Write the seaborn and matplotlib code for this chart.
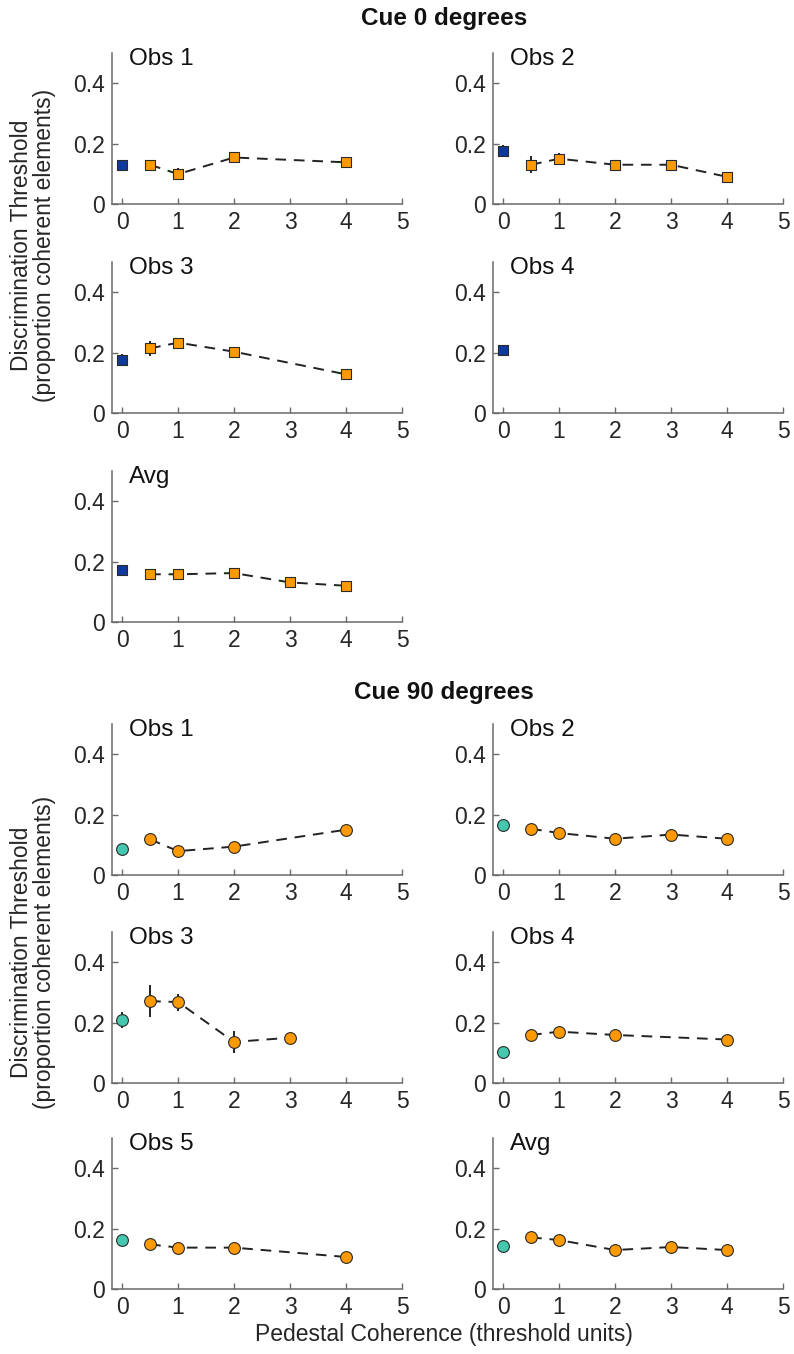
import numpy as np
import pandas as pd
import matplotlib
matplotlib.use("Agg")
import matplotlib.pyplot as plt
import seaborn as sns

sns.set_theme(style="ticks")
plt.rcParams['font.family'] = ['Liberation Sans', 'DejaVu Sans']

# ---------------- data ----------------
panel_names_cue0 = ["Obs 1", "Obs 2", "Obs 3", "Obs 4", "Avg"]
panel_names_cue90 = ["Obs 1", "Obs 2", "Obs 3", "Obs 4", "Obs 5", "Avg"]

# baseline (pedestal 0) thresholds and errors
cue0_base = [0.130, 0.174, 0.174, 0.207, 0.171]
cue0_base_err = [0.010, 0.020, 0.020, 0.015, 0.0]
cue90_base = [0.087, 0.167, 0.209, 0.103, 0.161, 0.144]
cue90_base_err = [0.006, 0.006, 0.027, 0.006, 0.006, 0.0]

# pedestal conditions
cue0_obs1_x = [0.5, 1, 2, 4]
cue0_obs1_y = [0.130, 0.099, 0.154, 0.138]
cue0_obs1_e = [0.010, 0.020, 0.012, 0.012]
cue0_obs2_x = [0.5, 1, 2, 3, 4]
cue0_obs2_y = [0.130, 0.150, 0.130, 0.130, 0.090]
cue0_obs2_e = [0.028, 0.020, 0.008, 0.008, 0.006]
cue0_obs3_x = [0.5, 1, 2, 4]
cue0_obs3_y = [0.214, 0.233, 0.203, 0.128]
cue0_obs3_e = [0.025, 0.015, 0.008, 0.006]
cue0_obs4_x = []
cue0_obs4_y = []
cue0_obs4_e = []
cue0_avg_x = [0.5, 1, 2, 3, 4]
cue0_avg_y = [0.158, 0.158, 0.162, 0.131, 0.120]
cue0_avg_e = [0, 0, 0, 0, 0]

cue90_obs1_x = [0.5, 1, 2, 4]
cue90_obs1_y = [0.118, 0.079, 0.094, 0.150]
cue90_obs1_e = [0.010, 0.012, 0.008, 0.008]
cue90_obs2_x = [0.5, 1, 2, 3, 4]
cue90_obs2_y = [0.153, 0.139, 0.120, 0.134, 0.120]
cue90_obs2_e = [0.008, 0.008, 0.006, 0.006, 0.006]
cue90_obs3_x = [0.5, 1, 2, 3]
cue90_obs3_y = [0.271, 0.268, 0.136, 0.150]
cue90_obs3_e = [0.052, 0.028, 0.037, 0.008]
cue90_obs4_x = [0.5, 1, 2, 4]
cue90_obs4_y = [0.159, 0.170, 0.159, 0.144]
cue90_obs4_e = [0.006, 0.008, 0.006, 0.010]
cue90_obs5_x = [0.5, 1, 2, 4]
cue90_obs5_y = [0.148, 0.137, 0.137, 0.106]
cue90_obs5_e = [0.008, 0.006, 0.006, 0.006]
cue90_avg_x = [0.5, 1, 2, 3, 4]
cue90_avg_y = [0.171, 0.162, 0.129, 0.139, 0.129]
cue90_avg_e = [0, 0, 0, 0, 0]

cue0_series = [(cue0_obs1_x, cue0_obs1_y, cue0_obs1_e),
               (cue0_obs2_x, cue0_obs2_y, cue0_obs2_e),
               (cue0_obs3_x, cue0_obs3_y, cue0_obs3_e),
               (cue0_obs4_x, cue0_obs4_y, cue0_obs4_e),
               (cue0_avg_x, cue0_avg_y, cue0_avg_e)]
cue90_series = [(cue90_obs1_x, cue90_obs1_y, cue90_obs1_e),
                (cue90_obs2_x, cue90_obs2_y, cue90_obs2_e),
                (cue90_obs3_x, cue90_obs3_y, cue90_obs3_e),
                (cue90_obs4_x, cue90_obs4_y, cue90_obs4_e),
                (cue90_obs5_x, cue90_obs5_y, cue90_obs5_e),
                (cue90_avg_x, cue90_avg_y, cue90_avg_e)]

x_ticks = [0, 1, 2, 3, 4, 5]
y_ticks = [0, 0.2, 0.4]
y_ticklabels = ["0", "0.2", "0.4"]

ORANGE = "#FF9900"
BLUE = "#0D3A9C"
TEAL = "#45C8B0"
EDGE = "#2a2a2a"
SPINE = "#6a6a6a"

# ---------------- layout ----------------
W, H = 794, 1354
fig = plt.figure(figsize=(W / 100, H / 100), dpi=100)

col_left = [112, 493]
ax_w = 290
row_top = [53, 262, 471, 724, 932, 1138]
ax_h = 151


def make_ax(col, row):
    l = col_left[col]
    t = row_top[row]
    return fig.add_axes([l / W, 1 - (t + ax_h) / H, ax_w / W, ax_h / H])


def style_ax(ax, name):
    ax.set_xlim(-0.18, 5.0)
    ax.set_ylim(0, 0.5)
    ax.set_xticks(x_ticks)
    ax.set_xticklabels([str(v) for v in x_ticks])
    ax.set_yticks(y_ticks)
    ax.set_yticklabels(y_ticklabels)
    sns.despine(ax=ax)
    for s in ["left", "bottom"]:
        ax.spines[s].set_color(SPINE)
        ax.spines[s].set_linewidth(1.1)
    ax.tick_params(direction="in", length=4, width=1.0, color=SPINE,
                   labelsize=16.5, labelcolor="#262626", pad=5)
    ax.set_xlabel("")
    ax.set_ylabel("")
    ax.text(0.06, 1.03, name, transform=ax.transAxes, fontsize=17.5,
            va="top", ha="left", color="#111111")
    ax.patch.set_alpha(0)


def draw_panel(ax, base, base_err, series, base_color, marker, msize):
    xs, ys, es = series
    if len(xs):
        df = pd.DataFrame({"x": xs, "y": ys})
        sns.lineplot(data=df, x="x", y="y", ax=ax, color="#222222",
                     linestyle=(0, (5.5, 4)), linewidth=1.4, zorder=2)
        ax.errorbar(xs, ys, yerr=es, fmt="none", ecolor="#111111",
                    elinewidth=1.3, capsize=0, zorder=3)
        sns.scatterplot(data=df, x="x", y="y", ax=ax, color=ORANGE,
                        marker=marker, s=msize, edgecolor=EDGE,
                        linewidth=0.8, zorder=4)
    ax.errorbar([0], [base], yerr=[base_err], fmt="none", ecolor="#111111",
                elinewidth=1.3, capsize=0, zorder=3)
    sns.scatterplot(x=[0], y=[base], ax=ax, color=base_color, marker=marker,
                    s=msize, edgecolor=EDGE, linewidth=0.8, zorder=4)


# Cue 0 degrees (squares)
positions0 = [(0, 0), (1, 0), (0, 1), (1, 1), (0, 2)]
for i, (c, r) in enumerate(positions0):
    ax = make_ax(c, r)
    draw_panel(ax, cue0_base[i], cue0_base_err[i], cue0_series[i], BLUE, "s", 58)
    style_ax(ax, panel_names_cue0[i])

# Cue 90 degrees (circles)
positions90 = [(0, 3), (1, 3), (0, 4), (1, 4), (0, 5), (1, 5)]
for i, (c, r) in enumerate(positions90):
    ax = make_ax(c, r)
    draw_panel(ax, cue90_base[i], cue90_base_err[i], cue90_series[i], TEAL, "o", 72)
    style_ax(ax, panel_names_cue90[i])

# titles and labels
fig.text(444 / W, 1 - 18 / H, "Cue 0 degrees", ha="center", va="center",
         fontsize=17.5, fontweight="bold", color="#111111")
fig.text(444 / W, 1 - 692 / H, "Cue 90 degrees", ha="center", va="center",
         fontsize=17.5, fontweight="bold", color="#111111")
ylab = "Discrimination Threshold\n(proportion coherent elements)"
fig.text(33 / W, 1 - 245 / H, ylab, rotation=90, ha="center", va="center",
         fontsize=16.5, color="#262626", linespacing=1.05)
fig.text(33 / W, 1 - 952 / H, ylab, rotation=90, ha="center", va="center",
         fontsize=16.5, color="#262626", linespacing=1.05)
fig.text(444 / W, 1 - 1335 / H, "Pedestal Coherence (threshold units)",
         ha="center", va="center", fontsize=16.5, color="#262626")

fig.savefig("out.png", dpi=100)
